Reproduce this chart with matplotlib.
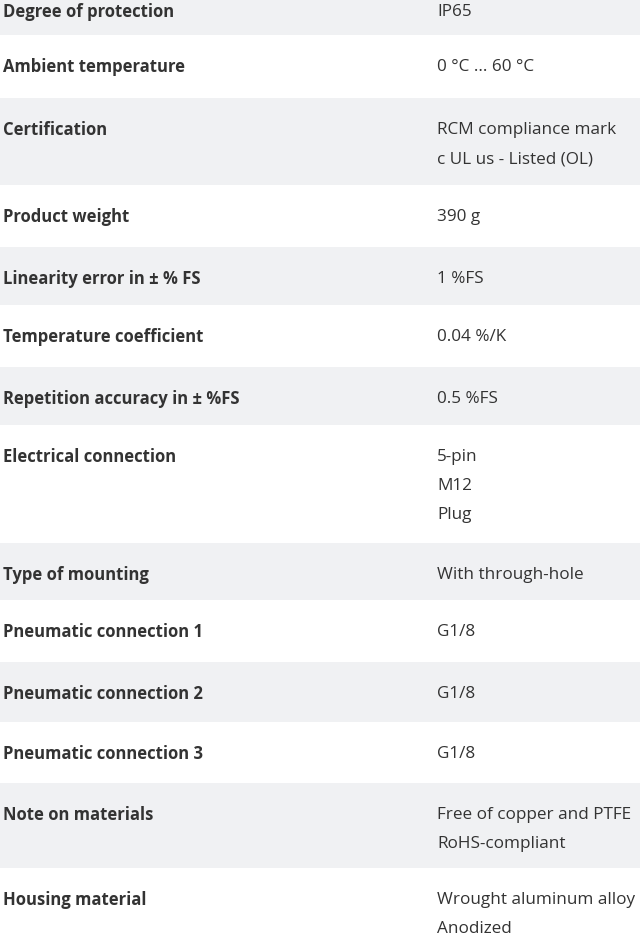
import matplotlib
matplotlib.use("Agg")
import matplotlib.pyplot as plt

labels = ["Degree of protection", "Ambient temperature", "Certification", "Product weight",
          "Linearity error in ± % FS", "Temperature coefficient", "Repetition accuracy in ± %FS",
          "Electrical connection", "Type of mounting", "Pneumatic connection 1",
          "Pneumatic connection 2", "Pneumatic connection 3", "Note on materials", "Housing material"]
values = [["IP65"], ["0 °C ... 60 °C"], ["RCM compliance mark", "c UL us - Listed (OL)"], ["390 g"],
          ["1 %FS"], ["0.04 %/K"], ["0.5 %FS"], ["5-pin", "M12", "Plug"], ["With through-hole"],
          ["G1/8"], ["G1/8"], ["G1/8"], ["Free of copper and PTFE", "RoHS-compliant"],
          ["Wrought aluminum alloy", "Anodized"]]
edges = [-20, 35, 98, 185, 247, 305, 367, 425, 543, 600, 662, 722, 783, 868, 942]

fig = plt.figure(figsize=(6.4, 9.42), dpi=100)
ax = fig.add_axes([0, 0, 1, 1])
ax.set_xlim(0, 640)
ax.set_ylim(942, 0)
ax.axis("off")
for i, (lab, vals) in enumerate(zip(labels, values)):
    top, bot = edges[i], edges[i + 1]
    if i % 2 == 0:
        ax.axhspan(max(top, 0), bot, color="#f0f1f3", lw=0)
    ax.text(3, top + 32, lab, fontsize=12, fontweight="bold", family="Open Sans",
            color="#333333", va="center", ha="left")
    for j, v in enumerate(vals):
        ax.text(437, top + 32 + 29 * j, v, fontsize=12.3, family="Open Sans",
                color="#333333", va="center", ha="left")
fig.savefig("out.png", dpi=100)
